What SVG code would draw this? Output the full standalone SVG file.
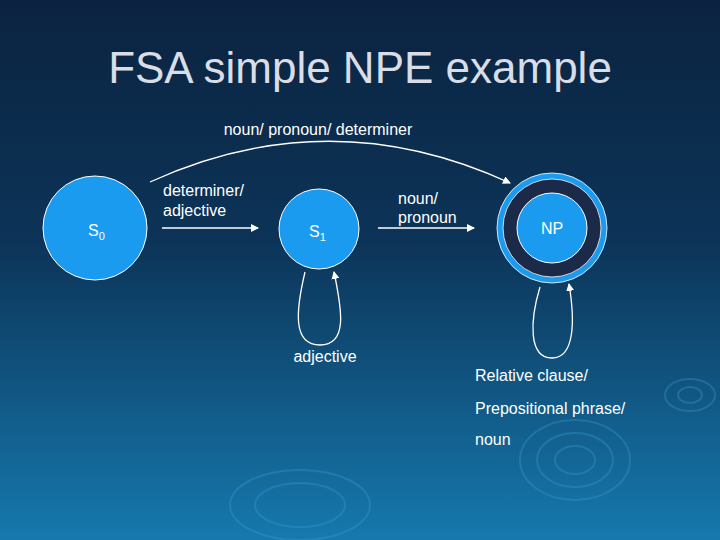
<svg xmlns="http://www.w3.org/2000/svg" width="720" height="540" viewBox="0 0 720 540">
<defs>
<linearGradient id="bg" x1="0" y1="0" x2="0" y2="1">
<stop offset="0" stop-color="#0b2340"/><stop offset="0.45" stop-color="#0c3458"/><stop offset="1" stop-color="#1679ad"/>
</linearGradient>
<marker id="ah" markerWidth="8" markerHeight="8" refX="7" refY="4" orient="auto" markerUnits="userSpaceOnUse"><path d="M0,0 L8,4 L0,8 Z" fill="#fff"/></marker>
<style>
.t{font-family:"Liberation Sans",Arial,sans-serif;fill:#fff}
.lbl{font-size:16px}
.c{stroke:#fff;stroke-width:1.3;fill:none}
.node{fill:#1b9bf0;stroke:#fff;stroke-width:1}
.rip{fill:none;stroke:#3a9bd0;stroke-opacity:0.35;stroke-width:2}
</style>
</defs>
<rect width="720" height="540" fill="url(#bg)"/>
<g id="ripples">
<ellipse class="rip" cx="575" cy="460" rx="55" ry="40"/><ellipse class="rip" cx="575" cy="460" rx="38" ry="27"/><ellipse class="rip" cx="575" cy="460" rx="20" ry="14"/>
<ellipse class="rip" cx="690" cy="395" rx="25" ry="16"/><ellipse class="rip" cx="690" cy="395" rx="12" ry="8"/>
<ellipse class="rip" cx="300" cy="505" rx="70" ry="35"/><ellipse class="rip" cx="300" cy="505" rx="45" ry="22"/>
</g>
<text class="t" x="360" y="83" font-size="44" text-anchor="middle" style="fill:#d8dde6">FSA simple NPE example</text>
<g id="connectors">
<path class="c" d="M150,182 Q330,100 510,183" marker-end="url(#ah)"/>
<line class="c" x1="162" y1="228" x2="258" y2="228" marker-end="url(#ah)"/>
<line class="c" x1="378" y1="228" x2="474" y2="228" marker-end="url(#ah)"/>
<path class="c" d="M305,272 C296,310 292,345 320,345 C348,345 342,310 334,272" marker-end="url(#ah)"/>
<path class="c" d="M540,287 C530,320 528,358 552,358 C575,358 575,320 569,284" marker-end="url(#ah)"/>
</g>
<g id="S0"><circle class="node" cx="95" cy="228" r="52"/><text class="t lbl" x="88" y="236">S<tspan font-size="11" dy="4">0</tspan></text></g>
<g id="S1"><circle class="node" cx="319" cy="229" r="40"/><text class="t lbl" x="309" y="237">S<tspan font-size="11" dy="4">1</tspan></text></g>
<g id="NP">
<circle cx="552" cy="228" r="52" fill="#1b2a48" stroke="#1b9bf0" stroke-width="6"/>
<circle cx="552" cy="228" r="55" fill="none" stroke="#fff" stroke-width="0.8"/>
<circle cx="552" cy="228" r="49" fill="none" stroke="#fff" stroke-width="0.8"/>
<circle class="node" cx="552" cy="228" r="35"/>
<text class="t lbl" x="552" y="234" text-anchor="middle">NP</text>
</g>
<g id="labels">
<text class="t lbl" x="318" y="135" text-anchor="middle">noun/ pronoun/ determiner</text>
<text class="t lbl" x="163" y="196">determiner/</text>
<text class="t lbl" x="163" y="216">adjective</text>
<text class="t lbl" x="398" y="204">noun/</text>
<text class="t lbl" x="398" y="223">pronoun</text>
<text class="t lbl" x="325" y="362" text-anchor="middle">adjective</text>
<text class="t lbl" x="475" y="381">Relative clause/</text>
<text class="t lbl" x="475" y="414">Prepositional phrase/</text>
<text class="t lbl" x="475" y="445">noun</text>
</g>
</svg>
